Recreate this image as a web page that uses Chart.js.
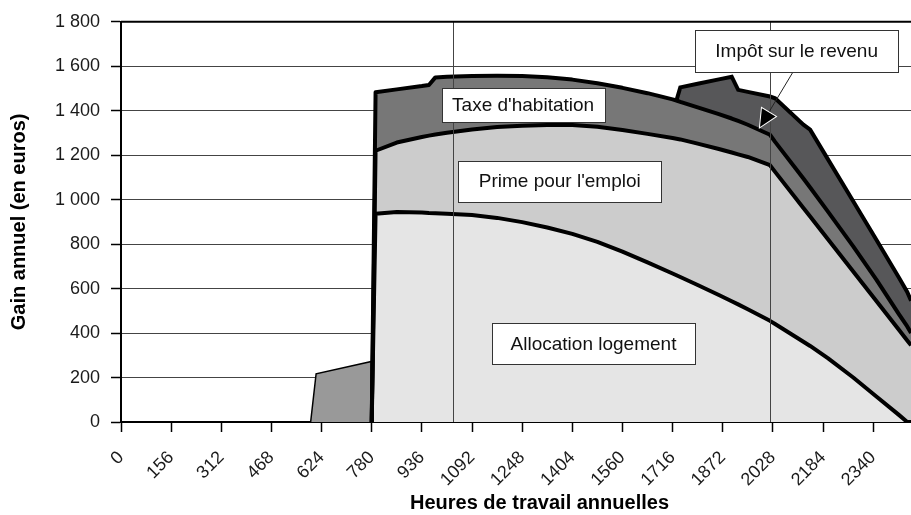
<!DOCTYPE html>
<html lang="fr">
<head>
<meta charset="utf-8">
<title>Gain annuel selon les heures de travail</title>
<script src="https://cdn.jsdelivr.net/npm/chart.js@4.4.1/dist/chart.umd.min.js"></script>
<style>
    html, body { margin: 0; padding: 0; overflow: hidden; background: #fff; }
    #wrap { width: 960px; height: 515px; }
</style>
</head>
<body>
<div id="wrap"><canvas id="gainChart" width="960" height="515"></canvas></div>
<script>
// DATA - heures de travail annuelles (x) and gain in euros per component
const hours = [590, 607, 779, 780, 792, 858, 936, 958, 978, 1014, 1092, 1170, 1248, 1326, 1404, 1482, 1560, 1638, 1716,
    1728, 1740, 1794, 1860, 1900, 1920, 1950, 2019, 2035, 2123, 2144, 2200, 2278, 2350, 2420, 2446, 2458];

const petitTemps = [0, 217, 272, 0, null, null, null, null, null, null, null, null, null, null, null, null, null, null, null,
    null, null, null, null, null, null, null, null, null, null, null, null, null, null, null, null, null];

const allocationLogement = [null, null, null, 0, 937, 945, 942, 940, 939, 937, 931, 918, 899, 875, 846, 810, 766, 718, 668,
    660, 652, 616, 571, 543, 529, 507, 455, 441, 361, 342, 286, 200, 115, 32, 0, 0];

const primeEmploi = [null, null, null, 0, 283, 312, 340, 348, 354, 364, 385, 409, 434, 461, 490, 518, 547, 578, 609,
    614, 619, 636, 657, 669, 675, 685, 700, 684, 602, 582, 535, 477, 429, 383, 367, 345];

const taxeHabitation = [null, null, null, 0, 263, 239, 229, 228, 257, 252, 240, 230, 223, 215, 204, 196, 190, 183, 174,
    172, 169, 163, 157, 153, 150, 145, 137, 135, 132, 131, 124, 113, 96, 70, 63, 55];

const impotRevenu = [null, null, null, null, null, null, null, null, null, null, null, null, null, null, null, null, null, null, null,
    0, 65, 106, 156, 188, 140, 148, 172, 196, 242, 260, 235, 203, 180, 165, 155, 145];

const xTickStep = 156;
const xLastLabel = 2340;
const xMax = 2604;
const yMax = 1800;
const yTickStep = 200;
const referenceHours = [1033, 2019];

const boxTexts = ["Taxe d'habitation", "Prime pour l'emploi", "Allocation logement", "Impôt sur le revenu"];

// LAYOUT OF THE TEXT BOXES (anchored in data units, size in px)
const boxLayout = [
    { x: 1251, y: 1427, w: 163, h: 34 },
    { x: 1365, y: 1083, w: 203, h: 41 },
    { x: 1470, y: 351, w: 203, h: 41 },
    { x: 2102, y: 1669, w: 203, h: 42 }
];
const arrowFrom = { x: 2091, y: 1575 };
const arrowTo = { x: 1988, y: 1327 };

Chart.defaults.font.family = '"Liberation Sans", Arial, Helvetica, sans-serif';

function toPoints(values) {
    return hours.map((h, i) => ({ x: h, y: values[i] }));
}

function formatEuro(v) {
    if (v >= 1000) return Math.floor(v / 1000) + "\u00a0" + String(v % 1000).padStart(3, "0");
    return String(v);
}

const outline = {
    pointRadius: 0,
    pointHitRadius: 0,
    borderColor: "#000",
    borderWidth: 4,
    borderJoinStyle: "round",
    tension: 0
};

// OVERLAY: reference lines, top border, arrow and text boxes
const overlayPlugin = {
    id: "overlay",
    afterDatasetsDraw(chart) {
        const { ctx, chartArea, scales } = chart;
        const x = scales.x, y = scales.y;
        ctx.save();

        ctx.strokeStyle = "#444";
        ctx.lineWidth = 1;
        referenceHours.forEach(h => {
            const px = Math.round(x.getPixelForValue(h)) + 0.5;
            ctx.beginPath();
            ctx.moveTo(px, chartArea.top);
            ctx.lineTo(px, chartArea.bottom);
            ctx.stroke();
        });

        ctx.strokeStyle = "#000";
        ctx.lineWidth = 2;
        ctx.beginPath();
        ctx.moveTo(chartArea.left, chartArea.top);
        ctx.lineTo(chartArea.right, chartArea.top);
        ctx.stroke();

        // arrow
        const ax0 = x.getPixelForValue(arrowFrom.x), ay0 = y.getPixelForValue(arrowFrom.y);
        const ax1 = x.getPixelForValue(arrowTo.x), ay1 = y.getPixelForValue(arrowTo.y);
        const ang = Math.atan2(ay1 - ay0, ax1 - ax0);
        const headLen = 17, headHalf = 8;
        const bx = ax1 - headLen * Math.cos(ang), by = ay1 - headLen * Math.sin(ang);
        ctx.strokeStyle = "#222";
        ctx.lineWidth = 1;
        ctx.beginPath();
        ctx.moveTo(ax0, ay0);
        ctx.lineTo(bx, by);
        ctx.stroke();
        ctx.beginPath();
        ctx.moveTo(ax1, ay1);
        ctx.lineTo(bx + headHalf * Math.sin(ang), by - headHalf * Math.cos(ang));
        ctx.lineTo(bx - headHalf * Math.sin(ang), by + headHalf * Math.cos(ang));
        ctx.closePath();
        ctx.strokeStyle = "#fff";
        ctx.lineWidth = 2;
        ctx.stroke();
        ctx.fillStyle = "#000";
        ctx.fill();

        // text boxes
        ctx.font = '19px "Liberation Sans", Arial, sans-serif';
        ctx.textAlign = "center";
        ctx.textBaseline = "middle";
        boxTexts.forEach((t, i) => {
            const b = boxLayout[i];
            const cx = x.getPixelForValue(b.x), cy = y.getPixelForValue(b.y);
            const l = Math.round(cx - b.w / 2) + 0.5, tp = Math.round(cy - b.h / 2) + 0.5;
            ctx.fillStyle = "#fff";
            ctx.fillRect(l, tp, b.w, b.h);
            ctx.strokeStyle = "#333";
            ctx.lineWidth = 1;
            ctx.strokeRect(l, tp, b.w, b.h);
            ctx.fillStyle = "#111";
            ctx.fillText(t, cx, cy + 1);
        });

        ctx.restore();
    }
};

const ctx = document.getElementById("gainChart").getContext("2d");
new Chart(ctx, {
    type: "line",
    data: {
        datasets: [
            { label: "Allocation logement", data: toPoints(allocationLogement), backgroundColor: "#e5e5e5", fill: "origin", ...outline },
            { label: "Prime pour l'emploi", data: toPoints(primeEmploi), backgroundColor: "#cccccc", fill: "-1", ...outline },
            { label: "Taxe d'habitation", data: toPoints(taxeHabitation), backgroundColor: "#777777", fill: "-1", ...outline },
            { label: "Impôt sur le revenu", data: toPoints(impotRevenu), backgroundColor: "#575759", fill: "-1", ...outline, borderJoinStyle: "miter" },
            { label: "Temps partiel", data: toPoints(petitTemps), backgroundColor: "#999999", fill: "origin",
              pointRadius: 0, borderColor: "#000", borderWidth: 1.5, tension: 0 }
        ]
    },
    options: {
        responsive: false,
        animation: false,
        devicePixelRatio: 1,
        layout: { padding: { left: 0, right: 2, top: 20, bottom: 0 } },
        plugins: {
            legend: { display: false },
            tooltip: { enabled: false },
            filler: { drawTime: "beforeDatasetsDraw" }
        },
        scales: {
            x: {
                type: "linear",
                min: 0,
                max: xMax,
                grid: { drawOnChartArea: false, drawTicks: true, tickLength: 10, tickColor: "#000", tickWidth: 1.5 },
                border: { color: "#000", width: 2 },
                ticks: {
                    stepSize: xTickStep,
                    includeBounds: false,
                    autoSkip: false,
                    minRotation: 45,
                    maxRotation: 45,
                    padding: 15,
                    color: "#1a1a1a",
                    font: { size: 18 },
                    callback: v => (v <= xLastLabel ? String(v) : "")
                },
                title: {
                    display: true,
                    text: "Heures de travail annuelles",
                    color: "#000",
                    font: { size: 20, weight: "bold" },
                    padding: { top: 4, bottom: 0 }
                },
                afterFit: s => { s.height = 93; }
            },
            y: {
                stacked: true,
                min: 0,
                max: yMax,
                grid: { color: "#444", lineWidth: 1, tickLength: 10, tickColor: "#000", tickWidth: 1.5 },
                border: { color: "#000", width: 2 },
                ticks: {
                    stepSize: yTickStep,
                    padding: 11,
                    color: "#1a1a1a",
                    font: { size: 18 },
                    callback: v => formatEuro(v)
                },
                title: {
                    display: true,
                    text: "Gain annuel (en euros)",
                    color: "#000",
                    font: { size: 20, weight: "bold" },
                    padding: { top: 7, bottom: 4 }
                },
                afterFit: s => { s.width = 121; }
            }
        }
    },
    plugins: [overlayPlugin]
});
</script>
</body>
</html>
